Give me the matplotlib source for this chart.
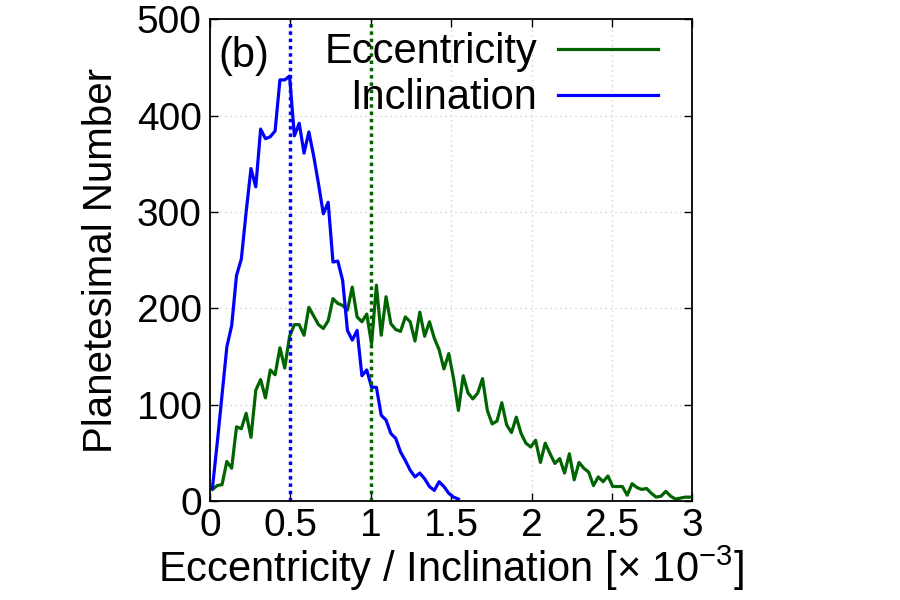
import numpy as np
import matplotlib
matplotlib.use("Agg")
import matplotlib.pyplot as plt

plt.rcParams['font.family'] = ['Liberation Sans', 'DejaVu Sans']
plt.rcParams['mathtext.fontset'] = 'custom'
plt.rcParams['mathtext.rm'] = 'Liberation Sans'

# histogram bins, width 0.03 (x 10^-3)
bin_w = 0.03
ecc_counts = [12, 16, 17, 41, 34, 77, 75, 91, 66, 115, 126, 107, 136, 131, 159,
              138, 171, 183, 183, 172, 201, 192, 183, 179, 187, 210, 205, 203,
              198, 222, 191, 186, 194, 163, 224, 172, 212, 184, 178, 176, 191,
              186, 166, 196, 171, 186, 169, 157, 137, 153, 127, 94, 130, 112,
              106, 112, 127, 94, 80, 83, 102, 79, 71, 87, 70, 60, 56, 63, 40,
              60, 49, 39, 44, 29, 49, 22, 40, 34, 30, 16, 25, 20, 26, 15, 15,
              15, 6, 18, 14, 12, 13, 8, 4, 5, 10, 5, 2, 3, 4, 4]
inc_counts = [13, 60, 110, 160, 182, 234, 251, 300, 345, 326, 386, 376, 378,
              384, 437, 437, 441, 379, 392, 361, 383, 358, 329, 298, 310, 248,
              249, 229, 177, 167, 177, 130, 136, 118, 118, 89, 84, 70, 65, 51,
              42, 32, 25, 29, 23, 15, 11, 20, 15, 8, 4, 2]
ecc_mean = 1.0
inc_mean = 0.5

xticks = [0, 0.5, 1, 1.5, 2, 2.5, 3]
xticklabels = ['0', '0.5', '1', '1.5', '2', '2.5', '3']
yticks = [0, 100, 200, 300, 400, 500]

ecc_x = bin_w / 2 + bin_w * np.arange(len(ecc_counts))
inc_x = bin_w / 2 + bin_w * np.arange(len(inc_counts))

green = '#006400'
blue = '#0000ff'

fig = plt.figure(figsize=(9, 6), dpi=100)
ax = fig.add_axes([0.2333, 0.165, 0.536, 0.803])

ax.plot(ecc_x, ecc_counts, color=green, lw=2.3, label='Eccentricity')
ax.plot(inc_x, inc_counts, color=blue, lw=2.3, label='Inclination')
ax.axvline(ecc_mean, color=green, lw=2.5, ls=(0, (1, 1.1)))
ax.axvline(inc_mean, color=blue, lw=2.5, ls=(0, (1, 1.1)))

ax.set_xlim(0, 3)
ax.set_ylim(0, 500)
ax.set_xticks(xticks)
ax.set_xticklabels(xticklabels)
ax.set_yticks(yticks)
ax.grid(True, color='#c8c8c8', ls=(0, (1, 3)), lw=0.9)
ax.tick_params(direction='in', top=True, right=True, length=6, width=1,
               labelsize=28)
ax.tick_params(axis='x', pad=5)
ax.tick_params(axis='y', pad=6)
for s in ax.spines.values():
    s.set_linewidth(1.3)

ax.set_xlabel(r'Eccentricity / Inclination [× 10$^{-3}$]', fontsize=30,
              labelpad=0)
ax.set_ylabel('Planetesimal Number', fontsize=29, labelpad=12)

ax.text(0.017, 0.965, '(b)', transform=ax.transAxes, fontsize=30,
        ha='left', va='top')

ax.legend(loc='upper right', bbox_to_anchor=(0.981, 1.025), markerfirst=False,
          frameon=False, fontsize=30, handlelength=2.4, handletextpad=0.5,
          labelspacing=0.15, borderaxespad=0.2)

fig.savefig('out.png', dpi=100)
